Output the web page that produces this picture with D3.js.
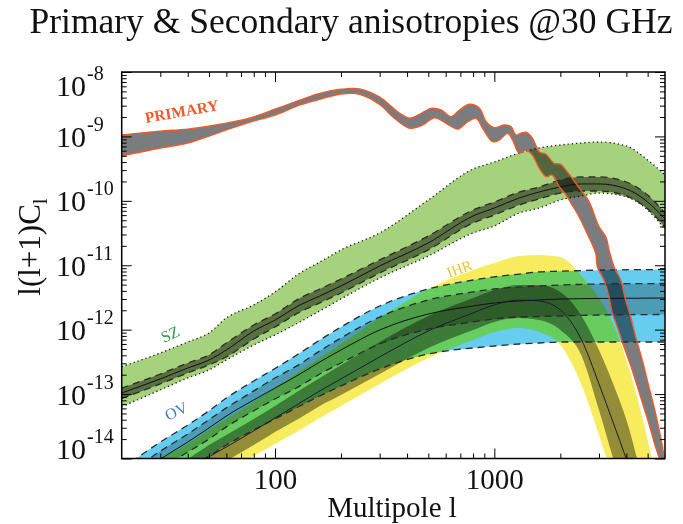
<!DOCTYPE html>
<html><head><meta charset="utf-8">
<script src="https://cdn.jsdelivr.net/npm/d3@7"></script>
<style>body{margin:0;background:#fff}svg{display:block}text{font-family:"Liberation Serif","Times New Roman",serif}</style>
</head><body>
<script>
// ---------------- DATA ----------------
const szL = [20,30,40,50,60,80,100,130,160,200,300,500,800,1000,1300,1600,2000,2500,3000,4000,5000,6000];
const szOuterHi = [2.66e-13,4.35e-13,6.44e-13,8.88e-13,1.52e-12,2.42e-12,3.85e-12,7.58e-12,1.12e-11,1.73e-11,3.17e-11,1.03e-10,3.12e-10,4.01e-10,5.53e-10,6.61e-10,7.36e-10,7.91e-10,8.19e-10,7.10e-10,4.31e-10,2.52e-10];
const szInnerHi = [1.24e-13,2.05e-13,3.04e-13,4.05e-13,6.21e-13,1.18e-12,1.75e-12,3.10e-12,4.28e-12,6.12e-12,1.21e-11,2.85e-11,7.21e-11,9.59e-11,1.37e-10,1.64e-10,2.11e-10,2.35e-10,2.35e-10,1.96e-10,1.23e-10,6.48e-11];
const szMid     = [1.04e-13,1.72e-13,2.54e-13,3.38e-13,4.84e-13,9.54e-13,1.41e-12,2.42e-12,3.33e-12,4.77e-12,9.74e-12,2.22e-11,5.82e-11,7.74e-11,1.11e-10,1.37e-10,1.64e-10,1.83e-10,1.83e-10,1.53e-10,9.59e-11,5.22e-11];
const szInnerLo = [8.55e-14,1.44e-13,2.13e-13,2.83e-13,3.77e-13,7.17e-13,1.10e-12,1.88e-12,2.60e-12,3.71e-12,7.58e-12,1.73e-11,4.53e-11,6.03e-11,8.62e-11,1.07e-10,1.32e-10,1.42e-10,1.42e-10,1.19e-10,7.47e-11,3.93e-11];
const szOuterLo = [6.37e-14,1.16e-13,1.78e-13,2.37e-13,3.38e-13,5.78e-13,8.27e-13,1.32e-12,1.95e-12,3.00e-12,6.34e-12,1.39e-11,3.17e-11,4.07e-11,6.48e-11,7.74e-11,1.03e-10,1.19e-10,1.32e-10,1.15e-10,7.21e-11,3.6e-11];

const ovL = [20,30,40,50,60,80,100,130,160,200,300,500,800,1000,1300,1600,2000,3000,6000];
const ovOuterHi = [6.9e-15,1.8e-14,3.3e-14,5.5e-14,8.7e-14,1.6e-13,2.5e-13,4.35e-13,6.9e-13,1.10e-12,2.33e-12,4.28e-12,5.9e-12,6.6e-12,7.3e-12,7.9e-12,8.1e-12,8.4e-12,8.6e-12];
const ovInnerHi = [5.0e-15,1.3e-14,2.4e-14,4.0e-14,6.1e-14,1.12e-13,1.78e-13,2.93e-13,4.67e-13,7.43e-13,1.57e-12,2.89e-12,3.85e-12,4.28e-12,4.6e-12,4.77e-12,4.94e-12,5.12e-12,5.21e-12];
const ovMid     = [3.7e-15,9.8e-15,1.8e-14,2.98e-14,4.57e-14,8.1e-14,1.24e-13,2.05e-13,3.15e-13,4.84e-13,9.89e-13,1.75e-12,2.33e-12,2.60e-12,2.79e-12,2.89e-12,2.99e-12,3.05e-12,3.10e-12];
const ovInnerLo = [2.6e-15,6.9e-15,1.26e-14,2.0e-14,3.1e-14,5.5e-14,8.4e-14,1.34e-13,2.05e-13,3.04e-13,5.99e-13,1.02e-12,1.32e-12,1.47e-12,1.57e-12,1.60e-12,1.63e-12,1.69e-12,1.72e-12];
const ovOuterLo = [1.5e-15,3.9e-15,6.9e-15,1.09e-14,1.62e-14,2.77e-14,4.11e-14,6.54e-14,9.34e-14,1.34e-13,2.45e-13,4.20e-13,5.20e-13,5.58e-13,5.99e-13,6.21e-13,6.44e-13,6.44e-13,6.44e-13];

const ihrL = [30,40,50,60,80,100,130,160,200,300,500,800,1000,1300,1600,2000,2500,3000,3500,4000,5000,6000];
const ihrOuterHi = [9.8e-15,1.68e-14,2.77e-14,4.11e-14,7.54e-14,1.24e-13,2.28e-13,3.63e-13,5.99e-13,1.52e-12,4.28e-12,8.44e-12,1.08e-11,1.39e-11,1.44e-11,1.34e-11,6.81e-12,3.10e-12,1.18e-12,3.38e-13,1.94e-14,1.11e-15];
const ihrInnerHi = [5.75e-15,9.8e-15,1.62e-14,2.32e-14,4.11e-14,6.54e-14,1.16e-13,1.78e-13,2.83e-13,6.44e-13,1.63e-12,3.10e-12,4.13e-12,4.94e-12,4.94e-12,3.85e-12,1.63e-12,4.84e-13,1.38e-13,4.0e-14,2.27e-15,2.66e-16];
const ihrMid     = [3.7e-15,6.4e-15,1.06e-14,1.51e-14,2.68e-14,4.26e-14,7.28e-14,1.12e-13,1.72e-13,3.77e-13,9.54e-13,1.82e-12,2.42e-12,2.89e-12,2.79e-12,2.02e-12,6.92e-13,1.44e-13,3.44e-14,9.8e-15,1.11e-15,1.3e-16];
const ihrInnerLo = [2.27e-15,3.9e-15,6.4e-15,9.15e-15,1.62e-14,2.58e-14,4.26e-14,6.54e-14,9.68e-14,2.05e-13,5.20e-13,9.89e-13,1.32e-12,1.52e-12,1.41e-12,9.89e-13,3.90e-13,5.66e-14,9.48e-15,2.27e-15,2.66e-16,3.1e-17];
const ihrOuterLo = [1.5e-15,2.6e-15,4.32e-15,6.18e-15,1.09e-14,1.68e-14,2.77e-14,4.26e-14,6.54e-14,1.44e-13,3.63e-13,6.92e-13,9.20e-13,1.06e-12,9.20e-13,5.78e-13,1.38e-13,2.32e-14,4.64e-15,1.11e-15,1.3e-16,1.5e-17];

// primary CMB band: upper and lower edges as [multipole, value]
const primaryHi = [[20,1.05e-9],[30,1.21e-9],[40,1.30e-9],[60,1.60e-9],[77,1.93e-9],[100,2.64e-9],[130,3.67e-9],[160,4.67e-9],[200,5.39e-9],[243,5.45e-9],[300,4.09e-9],[333,3.08e-9],[370,2.29e-9],[411,1.91e-9],[456,2.20e-9],[516,2.73e-9],[572,2.57e-9],[636,2.02e-9],[694,2.57e-9],[770,3.15e-9],[855,2.73e-9],[917,1.69e-9],[1000,1.37e-9],[1110,1.50e-9],[1191,1.42e-9],[1255,1.05e-9],[1322,1.12e-9],[1394,1.16e-9],[1493,9.35e-10],[1600,5.79e-10],[1718,5.28e-10],[1874,3.83e-10],[2010,3.69e-10],[2118,3.01e-10],[2479,1.47e-10],[2703,9.7e-11],[3000,3.97e-11],[3219,2.78e-11],[3333,1.73e-11],[3512,9.5e-12],[3767,5.9e-12],[3968,2.89e-12],[4182,1.59e-12],[4407,7.78e-13],[4723,3.38e-13],[5065,1.30e-13],[5433,5.03e-14],[5724,2.18e-14],[6000,9e-15]];
const primaryLo = [[20,4.97e-10],[30,6.61e-10],[40,7.9e-10],[60,1.26e-9],[77,1.67e-9],[100,2.15e-9],[130,3.08e-9],[160,3.77e-9],[200,4.55e-9],[243,4.51e-9],[300,3.13e-9],[344,2.02e-9],[411,1.34e-9],[471,1.50e-9],[534,1.95e-9],[603,1.60e-9],[681,1.30e-9],[756,1.69e-9],[826,1.91e-9],[885,1.34e-9],[982,8.28e-10],[1054,8.8e-10],[1150,1.12e-9],[1211,8.8e-10],[1299,5.47e-10],[1394,6.15e-10],[1490,5.15e-10],[1601,3.23e-10],[1723,2.37e-10],[1835,2.52e-10],[1975,1.66e-10],[2125,1.23e-10],[2239,9.16e-11],[2435,5.67e-11],[2647,3.13e-11],[2900,1.53e-11],[2948,9.5e-12],[3162,5.9e-12],[3333,3.25e-12],[3450,1.80e-12],[3636,1.11e-12],[3898,5.45e-13],[4252,2.37e-13],[4644,9.06e-14],[5065,3.5e-14],[5433,1.52e-14],[5623,1.07e-14],[6000,5.5e-15]];

const xMajor = [100,1000];
const xMinor = [30,40,50,60,70,80,90,200,300,400,500,600,700,800,900,2000,3000,4000,5000];
const yMajor = [1e-8,1e-9,1e-10,1e-11,1e-12,1e-13,1e-14];
const yExp = ["-8","-9","-10","-11","-12","-13","-14"];
const title = "Primary & Secondary anisotropies @30 GHz";

// ---------------- CHART ----------------
const W = 683, H = 524;
const M = {left:121.7, right:665, top:72, bottom:458.5};
const x = d3.scaleLog().domain([20,6000]).range([M.left, M.right]);
const y = d3.scaleLog().domain([1e-14,1e-8]).range([M.bottom, M.top]);
const yMinor = [];
yMajor.slice(1).forEach(v => { for (let k=2;k<10;k++) yMinor.push(v*k); });

const svg = d3.select('body').append('svg').attr('width',W).attr('height',H);
svg.append('defs').append('clipPath').attr('id','clip')
  .append('rect').attr('x',M.left).attr('y',M.top).attr('width',M.right-M.left).attr('height',M.bottom-M.top);

const plot = svg.append('g').attr('clip-path','url(#clip)');
const fills = plot.append('g').style('isolation','isolate');

const curve = d3.curveMonotoneX;
function area(ls, lo, hi){
  return d3.area().curve(curve).x((d,i)=>x(ls[i])).y0((d,i)=>y(lo[i])).y1((d,i)=>y(hi[i]))(ls);
}
function line(ls, vs){
  return d3.line().curve(curve).x((d,i)=>x(ls[i])).y((d,i)=>y(vs[i]))(ls);
}

const GREEN = '#a7d27d', BLUE = '#66cdf0', YELLOW = '#f7ec5e';

// outer bands
fills.append('path').attr('d',area(szL,szOuterLo,szOuterHi)).attr('fill',GREEN).style('mix-blend-mode','darken');
fills.append('path').attr('d',area(ihrL,ihrOuterLo,ihrOuterHi)).attr('fill',YELLOW).style('mix-blend-mode','darken');
fills.append('path').attr('d',area(ovL,ovOuterLo,ovOuterHi)).attr('fill',BLUE).style('mix-blend-mode','darken');
// inner bands
fills.append('path').attr('d',area(szL,szInnerLo,szInnerHi)).attr('fill','#000').attr('fill-opacity',0.47);
fills.append('path').attr('d',area(ihrL,ihrInnerLo,ihrInnerHi)).attr('fill','#000').attr('fill-opacity',0.4);
fills.append('path').attr('d',area(ovL,ovInnerLo,ovInnerHi)).attr('fill','#000').attr('fill-opacity',0.24);

// primary band (polygon: upper edge forward, lower edge backward)
const pl = d3.line().curve(d3.curveCatmullRom.alpha(0.5)).x(d=>x(d[0])).y(d=>y(d[1]));
const primD = pl(primaryHi) + 'L' + pl(primaryLo.slice().reverse()).slice(1) + 'Z';
fills.append('path').attr('d',primD).attr('fill','#7b7c7f').style('mix-blend-mode','multiply');

// band edge lines
const lines = plot.append('g').attr('fill','none');
function edge(ls, vs, dash, w, col){
  lines.append('path').attr('d',line(ls,vs)).attr('stroke',col||'#1a1a1a').attr('stroke-width',w||1.1)
    .attr('stroke-dasharray',dash||null);
}
edge(szL, szOuterHi, '1.2,3', 1.3, '#111');
edge(szL, szOuterLo, '1.2,3', 1.3, '#111');
edge(szL, szInnerHi, '7,5', 1.3, '#2a2a2a');
edge(szL, szInnerLo, '7,5', 1.3, '#2a2a2a');
edge(szL, szMid, null, 1, '#111');
edge(ovL, ovOuterHi, '7,5', 1.3, '#2a2a2a');
edge(ovL, ovOuterLo, '7,5', 1.3, '#2a2a2a');
edge(ovL, ovInnerHi, '7,5', 1.3, '#2a2a2a');
edge(ovL, ovInnerLo, '7,5', 1.3, '#2a2a2a');
edge(ovL, ovMid, null, 1, '#111');
edge(ihrL, ihrMid, null, 1, '#1b1b3a');

// primary outline
lines.append('path').attr('d',pl(primaryHi)).attr('stroke','#f05a28').attr('stroke-width',1.4);
lines.append('path').attr('d',pl(primaryLo)).attr('stroke','#f05a28').attr('stroke-width',1.4);

// curve labels
function label(txt, px, py, rot, col, size, weight){
  svg.append('text').attr('transform',`translate(${px},${py}) rotate(${rot})`)
    .attr('fill',col).attr('font-size',size).attr('font-weight',weight||'normal').text(txt);
}
label('PRIMARY', 146, 123, -10, '#f05a28', 15.5, 'bold');
label('SZ', 164, 343, -25, '#2f9a4c', 16);
label('OV', 168, 421, -25, '#3b7fc4', 16);
label('IHR', 449, 278, -20, '#e9c43a', 15);

// axes
const tickStyle = g => { g.select('.domain').remove(); g.selectAll('.tick line').attr('stroke','#000').attr('stroke-width',1); };
svg.append('g').attr('transform',`translate(0,${M.bottom})`)
  .call(d3.axisBottom(x).tickValues(xMinor).tickSize(-5).tickFormat('')).call(tickStyle);
svg.append('g').attr('transform',`translate(0,${M.top})`)
  .call(d3.axisTop(x).tickValues(xMinor).tickSize(-5).tickFormat('')).call(tickStyle);
svg.append('g').attr('transform',`translate(0,${M.top})`)
  .call(d3.axisTop(x).tickValues(xMajor).tickSize(-10).tickFormat('')).call(tickStyle);
const gxMaj = svg.append('g').attr('transform',`translate(0,${M.bottom})`)
  .call(d3.axisBottom(x).tickValues(xMajor).tickSize(-10).tickPadding(10).tickFormat(d3.format('d'))).call(tickStyle);
gxMaj.selectAll('text').attr('font-size',29).attr('fill','#111').attr('font-family','"Liberation Serif",serif');

svg.append('g').attr('transform',`translate(${M.left},0)`)
  .call(d3.axisLeft(y).tickValues(yMinor).tickSize(-5).tickFormat('')).call(tickStyle);
svg.append('g').attr('transform',`translate(${M.right},0)`)
  .call(d3.axisRight(y).tickValues(yMinor).tickSize(-5).tickFormat('')).call(tickStyle);
svg.append('g').attr('transform',`translate(${M.right},0)`)
  .call(d3.axisRight(y).tickValues(yMajor).tickSize(-10).tickFormat('')).call(tickStyle);
const gyMaj = svg.append('g').attr('transform',`translate(${M.left},0)`)
  .call(d3.axisLeft(y).tickValues(yMajor).tickSize(-10).tickFormat('')).call(tickStyle);

// y tick labels 10^n
const yShift = [23,10,10,10,10,10,0];
gyMaj.selectAll('.tick').each(function(d){
  const i = yMajor.indexOf(d);
  const t = d3.select(this).append('text').attr('x',56-M.left).attr('y',yShift[i])
    .attr('text-anchor','start').attr('fill','#111').attr('font-size',30).attr('font-family','"Liberation Serif",serif');
  t.append('tspan').text('10');
  t.append('tspan').attr('font-size',20).attr('dy',-16).attr('dx',1).text(yExp[i]);
});

// frame
svg.append('rect').attr('x',M.left).attr('y',M.top).attr('width',M.right-M.left).attr('height',M.bottom-M.top)
  .attr('fill','none').attr('stroke','#000').attr('stroke-width',1.5);

// titles
svg.append('text').attr('x',351).attr('y',33).attr('text-anchor','middle').attr('font-size',35.5).attr('fill','#111').text(title);
svg.append('text').attr('x',392).attr('y',517).attr('text-anchor','middle').attr('font-size',29).attr('fill','#111').text('Multipole l');
const yl = svg.append('text').attr('transform','translate(40,247) rotate(-90)').attr('text-anchor','middle')
  .attr('font-size',31).attr('fill','#111');
yl.append('tspan').text('l(l+1)C');
yl.append('tspan').attr('font-size',21).attr('dy',7).text('l');
</script>
</body></html>
